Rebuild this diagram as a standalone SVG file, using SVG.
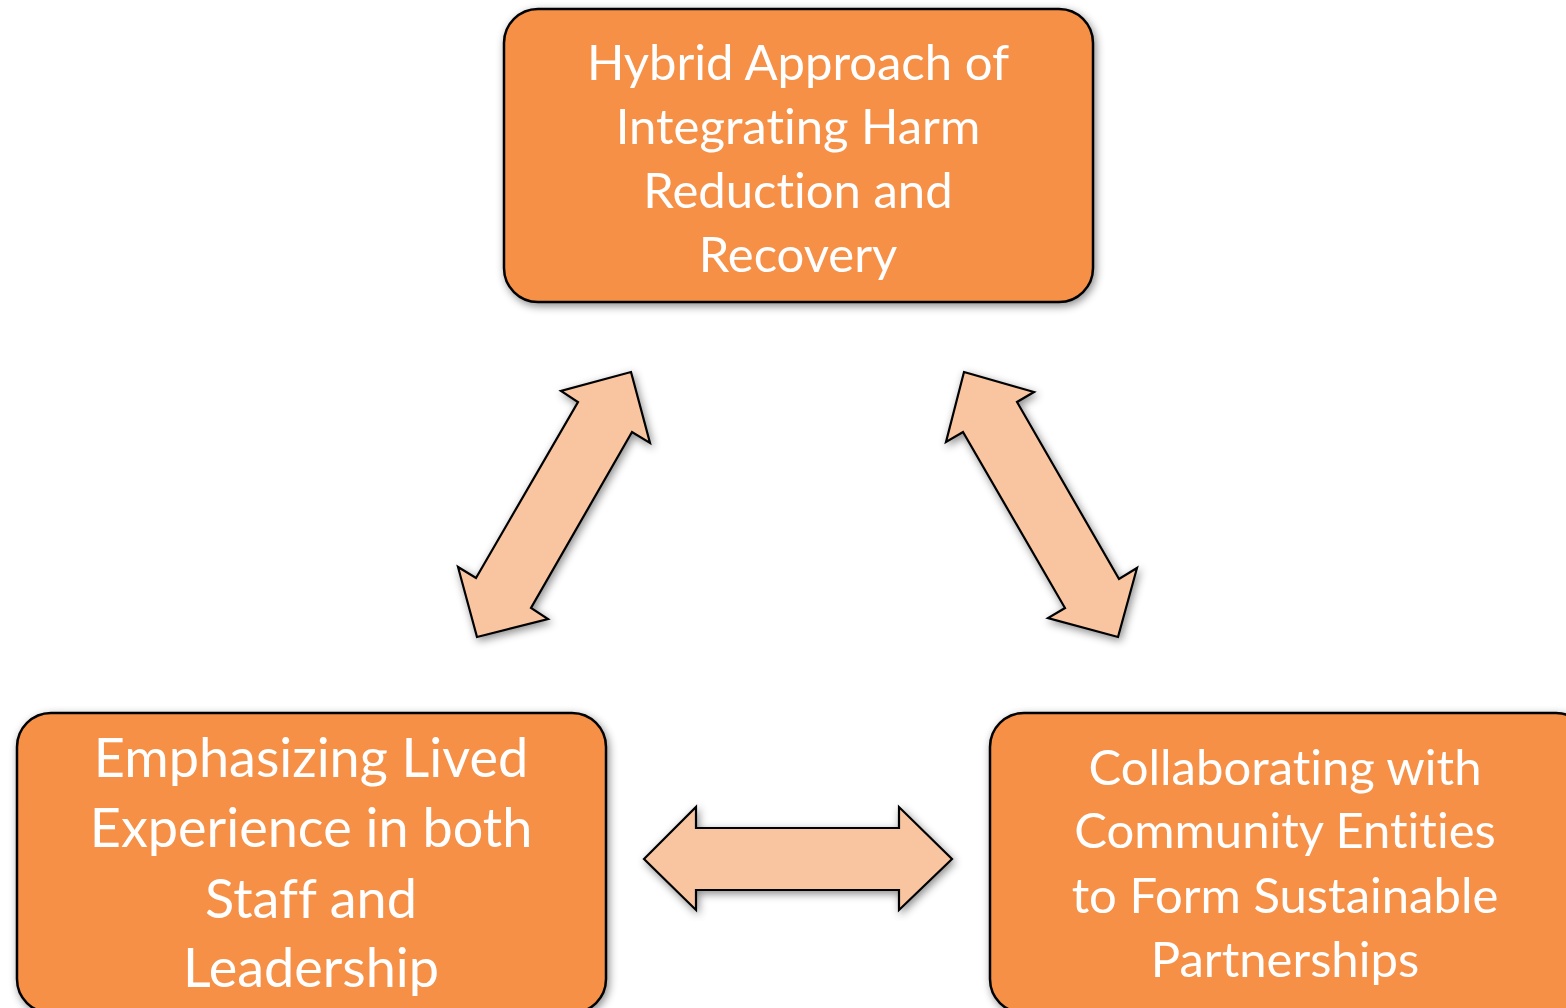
<svg xmlns="http://www.w3.org/2000/svg" width="1566" height="1008" viewBox="0 0 1566 1008">
  <style>
    .box { fill: #F79046; stroke: #000; stroke-width: 2.5; filter: url(#shadow); }
    .arrow { fill: #F9C5A0; stroke: #000; stroke-width: 2.2; stroke-linejoin: miter; filter: url(#shadow); }
    .label { fill: #fff; font-family: Lato, "Open Sans", "Liberation Sans", sans-serif; text-anchor: middle; font-variant-ligatures: none; }
    .top { font-size: 49px; }
    .left { font-size: 54px; }
    .right { font-size: 49px; }
  </style>
  <defs>
    <filter id="shadow" x="-10%" y="-10%" width="120%" height="120%">
      <feDropShadow dx="2" dy="3" stdDeviation="4" flood-color="#000" flood-opacity="0.45"/>
    </filter>
  </defs>

  <rect width="1566" height="1008" fill="#fff"/>

  <!-- connectors: block double arrows between the three nodes -->
  <g id="connectors">
    <polygon class="arrow" points="631,372 650,443 632,432 531,608 548,619 477,637 458,567 476,578 578,402 561,391"/>
    <polygon class="arrow" points="964,372 1034,392 1017,402 1119,579 1137,568 1118,637 1048,618 1065,608 963,432 946,442"/>
    <polygon class="arrow" points="644,859 696,807 696,828 899,828 899,807 952,859 899,910 899,890 696,890 696,910"/>
  </g>

  <g id="node-hybrid">
    <rect class="box" x="504" y="9" width="589" height="293" rx="34"/>
    <text class="label top" x="798" y="80">Hybrid Approach of</text>
    <text class="label top" x="798" y="144">Integrating Harm</text>
    <text class="label top" x="798" y="208">Reduction and</text>
    <text class="label top" x="798" y="272">Recovery</text>
  </g>

  <g id="node-lived-experience">
    <rect class="box" x="17" y="713" width="589" height="300" rx="34"/>
    <text class="label left" x="311" y="777">Emphasizing Lived</text>
    <text class="label left" x="311" y="847">Experience in both</text>
    <text class="label left" x="311" y="918">Staff and</text>
    <text class="label left" x="311" y="987">Leadership</text>
  </g>

  <g id="node-community">
    <rect class="box" x="990" y="713" width="600" height="300" rx="34"/>
    <text class="label right" x="1285" y="785">Collaborating with</text>
    <text class="label right" x="1285" y="848">Community Entities</text>
    <text class="label right" x="1285" y="913">to Form Sustainable</text>
    <text class="label right" x="1285" y="977">Partnerships</text>
  </g>
</svg>
